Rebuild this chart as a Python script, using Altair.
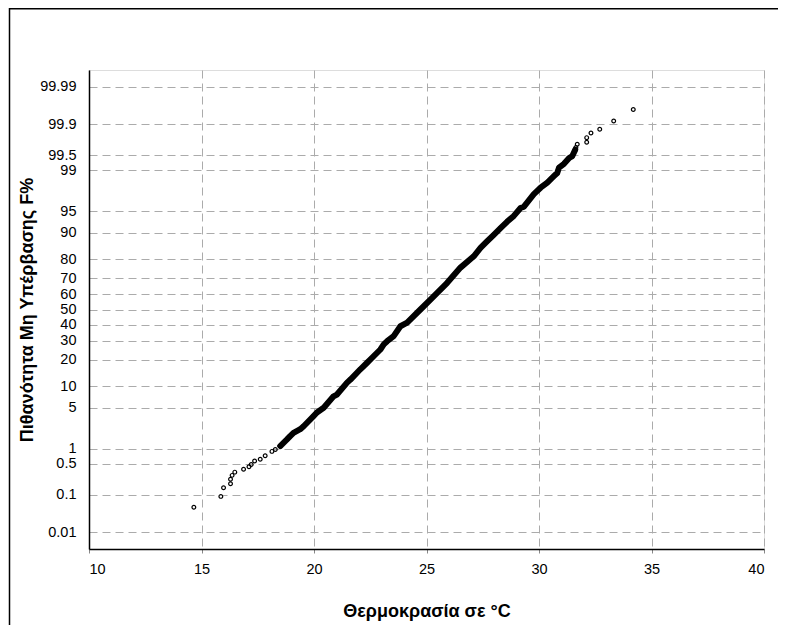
import altair as alt
import pandas as pd
from statistics import NormalDist

# Sparse points (open circles): temperature (°C), non-exceedance probability F (%)
pt_temp = [14.66, 15.86, 15.98, 16.29, 16.29, 16.36, 16.48, 16.87, 17.11, 17.21, 17.36,
           17.61, 17.83, 18.13, 18.28, 18.50,
           31.61, 31.64, 31.70, 32.12, 32.12, 32.31, 32.70, 33.32, 34.19]
pt_prob = [0.048, 0.09, 0.145, 0.18, 0.23, 0.28, 0.33, 0.38, 0.43, 0.48, 0.57,
           0.62, 0.73, 0.89, 0.97, 1.13,
           99.62, 99.66, 99.71, 99.74, 99.795, 99.84, 99.87, 99.918, 99.958]

# Dense band of overlapping points
band_temp = [18.50, 18.80, 18.94, 19.09, 19.39, 19.54, 19.98, 20.13, 20.43, 20.87, 21.02,
             21.47, 21.62, 22.06, 22.36, 22.51, 22.95, 23.10, 23.25, 23.54, 23.84, 24.14,
             24.73, 25.32, 25.92, 26.51, 27.10, 27.40, 27.70, 27.99, 28.29, 28.59, 28.88,
             29.18, 29.33, 29.77, 30.07, 30.37, 30.66, 30.81, 30.89, 31.11, 31.34, 31.48, 31.61]
band_prob = [1.13, 1.50, 1.72, 1.97, 2.28, 2.56, 3.75, 4.27, 5.05, 7.35, 7.78,
             11.1, 12.1, 15.9, 18.7, 20.2, 25.2, 28.0, 29.8, 32.8, 39.0, 41.3,
             50.0, 58.7, 67.2, 75.8, 81.3, 84.8, 87.3, 89.4, 91.3, 92.9, 94.1,
             95.5, 95.7, 97.3, 97.9, 98.3, 98.7, 98.87, 99.11, 99.25, 99.43, 99.48, 99.62]

x_ticks = [10, 15, 20, 25, 30, 35, 40]
y_tick_labels = ["0.01", "0.1", "0.5", "1", "5", "10", "20", "30", "40", "50",
                 "60", "70", "80", "90", "95", "99", "99.5", "99.9", "99.99"]

nd = NormalDist()
def probit(p):
    return nd.inv_cdf(p / 100.0)

y_tick_z = [probit(float(s)) for s in y_tick_labels]

pts = pd.DataFrame({"T": pt_temp + band_temp, "F": pt_prob + band_prob})
pts["z"] = [probit(p) for p in pts["F"]]
band = pd.DataFrame({"T": band_temp, "F": band_prob})
band["z"] = [probit(p) for p in band["F"]]

# label expression mapping z tick values back to the probability labels
expr = f"'{y_tick_labels[0]}'"
for i in range(1, len(y_tick_z)):
    lo = (y_tick_z[i - 1] + y_tick_z[i]) / 2
    expr = f"(datum.value > {lo:.6f} ? '{y_tick_labels[i]}' : {expr})"

PW, PH = 675, 479
FONT = "Liberation Sans"

xscale = alt.Scale(domain=[10, 40], nice=False, zero=False)
yscale = alt.Scale(domain=[-4, 4], nice=False, zero=False)

xaxis = alt.Axis(values=x_ticks, tickCount=40, grid=True, gridDash=[8, 5], gridColor="#ababab",
                 gridWidth=1, domainColor="#000000", domainWidth=1.5, tickColor="#888888",
                 tickSize=4, labelFont=FONT, labelFontSize=14.5, labelColor="#000000",
                 labelPadding=9, title="Θερμοκρασία σε °C", titleFont=FONT, titleFontSize=18,
                 titleFontWeight="bold", titleColor="#000000", titlePadding=27)
yaxis = alt.Axis(values=y_tick_z, tickCount=40, labelExpr=expr, grid=True, gridDash=[8, 5],
                 gridColor="#ababab", gridWidth=1, domainColor="#000000", domainWidth=1.5,
                 ticks=False, labelFont=FONT, labelFontSize=14.5, labelColor="#000000",
                 labelPadding=13, labelOverlap=False,
                 title="Πιθανότητα Μη Υπέρβασης F%", titleFont=FONT, titleFontSize=18,
                 titleFontWeight="bold", titleColor="#000000", titlePadding=3)

line = alt.Chart(band).mark_line(color="#000000", strokeWidth=6, strokeCap="round",
                                 strokeJoin="round").encode(
    x=alt.X("T:Q", scale=xscale, axis=xaxis),
    y=alt.Y("z:Q", scale=yscale, axis=yaxis),
    order="T:Q",
)

circles = alt.Chart(pts).mark_point(shape="circle", filled=False, color="#000000",
                                    strokeWidth=1.2, size=14, opacity=1).encode(
    x=alt.X("T:Q", scale=xscale, axis=xaxis),
    y=alt.Y("z:Q", scale=yscale, axis=yaxis),
)

frame_df = pd.DataFrame({"k": [0]})
outer_left = alt.Chart(frame_df).mark_rule(color="#000000", strokeWidth=1.5).encode(
    x=alt.value(-79.5), y=alt.value(-62), y2=alt.value(PH + 80))
outer_top = alt.Chart(frame_df).mark_rule(color="#000000", strokeWidth=1.5).encode(
    x=alt.value(-79.5), x2=alt.value(PW + 30), y=alt.value(-61.2))

chart = alt.layer(line, circles, outer_left, outer_top).properties(
    width=PW, height=PH,
    autosize=alt.AutoSizeParams(type="none"),
    padding={"left": 81, "top": 62, "right": 14, "bottom": 76},
).configure_view(stroke="#666666", strokeWidth=1.2).configure(background="#ffffff")

chart.save("out.html", embed_options={"renderer": "svg", "actions": False})
